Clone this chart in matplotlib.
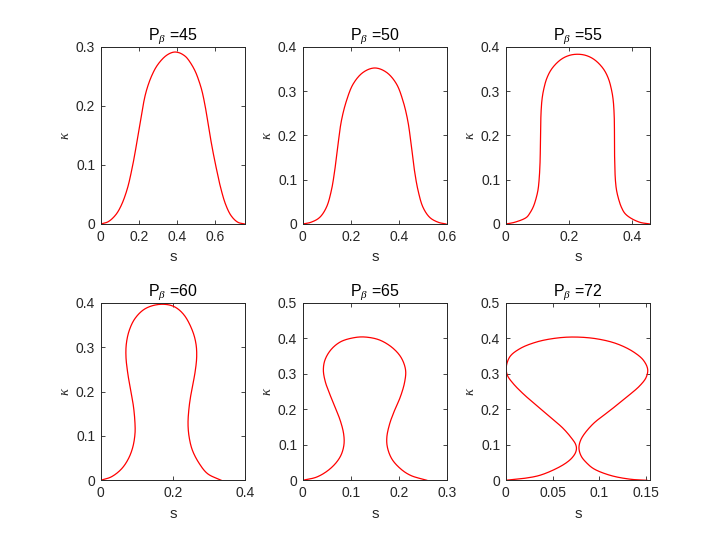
import numpy as np
import matplotlib
matplotlib.use("Agg")
import matplotlib.pyplot as plt
from matplotlib.ticker import FuncFormatter

# P_beta values shown in the titles
p_beta = [45, 50, 55, 60, 65, 72]

# curves (s, kappa)
s45 = [0, 0.04, 0.08, 0.11, 0.14, 0.162, 0.18, 0.197, 0.215, 0.233, 0.25, 0.268, 0.29, 0.315,
       0.34, 0.365, 0.388, 0.41, 0.43, 0.45, 0.475, 0.497, 0.515, 0.532, 0.55, 0.567, 0.58,
       0.594, 0.61, 0.628, 0.655, 0.685, 0.72, 0.757]
k45 = [0, 0.004, 0.016, 0.033, 0.060, 0.090, 0.120, 0.153, 0.187, 0.217, 0.236, 0.251, 0.265,
       0.276, 0.284, 0.289, 0.291, 0.290, 0.287, 0.282, 0.271, 0.258, 0.243, 0.225, 0.197,
       0.164, 0.139, 0.115, 0.090, 0.064, 0.034, 0.014, 0.003, 0]

s50 = [0, 0.035, 0.071, 0.099, 0.119, 0.133, 0.147, 0.161, 0.182, 0.210, 0.251, 0.300, 0.349,
       0.390, 0.417, 0.437, 0.451, 0.465, 0.480, 0.500, 0.528, 0.563, 0.596]
k50 = [0, 0.004, 0.015, 0.038, 0.075, 0.120, 0.180, 0.233, 0.278, 0.316, 0.342, 0.352, 0.342,
       0.316, 0.278, 0.233, 0.180, 0.120, 0.075, 0.038, 0.015, 0.004, 0]

s55 = [0, 0.029, 0.066, 0.077, 0.087, 0.094, 0.102, 0.106, 0.109, 0.110, 0.111, 0.112, 0.115,
       0.120, 0.130, 0.146, 0.173, 0.200, 0.228, 0.256, 0.283, 0.310, 0.326, 0.336, 0.341,
       0.344, 0.345, 0.345, 0.346, 0.348, 0.352, 0.360, 0.367, 0.377, 0.393, 0.425, 0.458]
k55 = [0, 0.004, 0.015, 0.025, 0.038, 0.052, 0.075, 0.100, 0.140, 0.180, 0.220, 0.250, 0.280,
       0.302, 0.328, 0.350, 0.370, 0.380, 0.383, 0.380, 0.370, 0.350, 0.328, 0.302, 0.280,
       0.250, 0.220, 0.180, 0.140, 0.100, 0.075, 0.052, 0.038, 0.025, 0.015, 0.004, 0]

s60 = [0, 0.030, 0.058, 0.077, 0.089, 0.095, 0.095, 0.091, 0.083, 0.075, 0.070, 0.071, 0.079,
       0.095, 0.123, 0.165, 0.203, 0.231, 0.254, 0.264, 0.266, 0.261, 0.252, 0.245, 0.242,
       0.245, 0.254, 0.273, 0.296, 0.334]
k60 = [0, 0.008, 0.026, 0.049, 0.075, 0.105, 0.128, 0.165, 0.203, 0.241, 0.278, 0.308, 0.338,
       0.365, 0.387, 0.397, 0.392, 0.373, 0.338, 0.308, 0.278, 0.241, 0.203, 0.165, 0.128,
       0.098, 0.068, 0.038, 0.015, 0]

s65 = [0, 0.029, 0.053, 0.071, 0.081, 0.086, 0.085, 0.078, 0.067, 0.056, 0.047, 0.043, 0.046,
       0.058, 0.078, 0.106, 0.130, 0.161, 0.189, 0.206, 0.214, 0.212, 0.203, 0.191, 0.181,
       0.175, 0.176, 0.185, 0.203, 0.224, 0.258]
k65 = [0, 0.009, 0.028, 0.052, 0.075, 0.103, 0.132, 0.169, 0.207, 0.244, 0.278, 0.310, 0.338,
       0.367, 0.390, 0.402, 0.404, 0.395, 0.371, 0.343, 0.310, 0.277, 0.235, 0.197, 0.160,
       0.122, 0.094, 0.061, 0.033, 0.014, 0]

s72 = [0, 0.0186, 0.0364, 0.054, 0.065, 0.071, 0.0745, 0.0755, 0.0745, 0.0705, 0.0614, 0.0471,
       0.0329, 0.0186, 0.0079, 0.0018, 0.0005, 0.0043, 0.015, 0.0329, 0.054, 0.0739, 0.0971,
       0.1186, 0.1364, 0.1471, 0.1515, 0.150, 0.1436, 0.1293, 0.1114, 0.0936, 0.0829, 0.0795,
       0.0782, 0.0786, 0.0810, 0.0860, 0.0936, 0.1114, 0.1329, 0.1507]
k72 = [0, 0.005, 0.014, 0.033, 0.050, 0.064, 0.078, 0.090, 0.102, 0.118, 0.146, 0.179, 0.211,
       0.244, 0.273, 0.296, 0.318, 0.348, 0.371, 0.390, 0.401, 0.404, 0.399, 0.385, 0.362, 0.338,
       0.313, 0.291, 0.268, 0.235, 0.197, 0.160, 0.127, 0.110, 0.095, 0.082, 0.066, 0.050, 0.033,
       0.014, 0.003, 0]

curves = [(s45, k45), (s50, k50), (s55, k55), (s60, k60), (s65, k65), (s72, k72)]
xlims = [0.758, 0.6, 0.458, 0.4, 0.3, 0.154]
ylims = [0.3, 0.4, 0.4, 0.4, 0.5, 0.5]
xticks = [[0, 0.2, 0.4, 0.6], [0, 0.2, 0.4, 0.6], [0, 0.2, 0.4], [0, 0.2, 0.4],
          [0, 0.1, 0.2, 0.3], [0, 0.05, 0.1, 0.15]]


def smooth(x, y, sx, sy, n=30):
    # centripetal catmull-rom through the read points (in axis-normalised units)
    P = np.column_stack([np.asarray(x, float) / sx, np.asarray(y, float) / sy])
    P = np.vstack([2 * P[0] - P[1], P, 2 * P[-1] - P[-2]])
    out = []
    for i in range(1, len(P) - 2):
        p0, p1, p2, p3 = P[i - 1], P[i], P[i + 1], P[i + 2]
        t0 = 0.0
        t1 = t0 + np.linalg.norm(p1 - p0) ** 0.5
        t2 = t1 + np.linalg.norm(p2 - p1) ** 0.5
        t3 = t2 + np.linalg.norm(p3 - p2) ** 0.5
        t = np.linspace(t1, t2, n, endpoint=False)[:, None]
        A1 = (t1 - t) / (t1 - t0) * p0 + (t - t0) / (t1 - t0) * p1
        A2 = (t2 - t) / (t2 - t1) * p1 + (t - t1) / (t2 - t1) * p2
        A3 = (t3 - t) / (t3 - t2) * p2 + (t - t2) / (t3 - t2) * p3
        B1 = (t2 - t) / (t2 - t0) * A1 + (t - t0) / (t2 - t0) * A2
        B2 = (t3 - t) / (t3 - t1) * A2 + (t - t1) / (t3 - t1) * A3
        out.append((t2 - t) / (t2 - t1) * B1 + (t - t1) / (t2 - t1) * B2)
    out.append(P[-2][None, :])
    out = np.vstack(out)
    return out[:, 0] * sx, np.clip(out[:, 1] * sy, 0, None)


plt.rcParams['font.family'] = ['Liberation Sans', 'DejaVu Sans']
plt.rcParams['mathtext.fontset'] = 'custom'
plt.rcParams['mathtext.it'] = 'Liberation Serif:italic'
plt.rcParams['mathtext.rm'] = 'Liberation Sans'

fig = plt.figure(figsize=(7.2, 5.4), dpi=100)
lefts = [0.1399, 0.4204, 0.7024]
bottoms = [0.5852, 0.1106]
w, h = 0.2004, 0.3283
grey = (0.15, 0.15, 0.15)

fmt = FuncFormatter(lambda v, p: '0' if abs(v) < 1e-12 else ('%g' % round(v, 4)))

for i, (s, k) in enumerate(curves):
    ax = fig.add_axes([lefts[i % 3], bottoms[i // 3], w, h])
    xs, ks = smooth(s, k, xlims[i], ylims[i])
    ax.plot(xs, ks, color='red', linewidth=0.9)
    ax.set_xlim(0, xlims[i])
    ax.set_ylim(0, ylims[i])
    ax.set_xticks(xticks[i])
    ax.set_yticks(np.round(np.arange(0, ylims[i] + 1e-9, 0.1), 2))
    ax.xaxis.set_major_formatter(fmt)
    ax.yaxis.set_major_formatter(fmt)
    ax.tick_params(direction='in', length=3, width=0.6, top=True, right=True,
                   labelsize=10, colors=grey, pad=4)
    for sp in ax.spines.values():
        sp.set_color(grey)
        sp.set_linewidth(0.7)
    ax.set_title(r'P$_{\beta}$ =%d' % p_beta[i], fontsize=11.5, color='black', pad=5)
    ax.set_xlabel('s', fontsize=11, color=grey, labelpad=5)
    ax.set_ylabel(r'$\kappa$', fontsize=10.5, color=grey, labelpad=3)

plt.savefig('out.png', dpi=100)
